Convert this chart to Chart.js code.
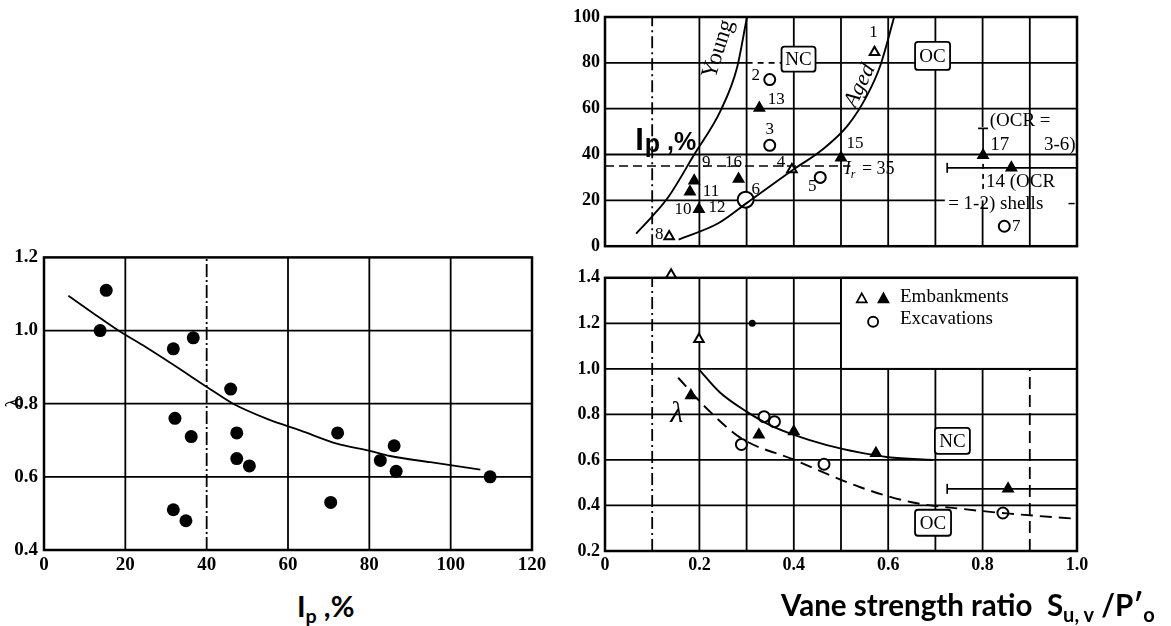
<!DOCTYPE html>
<html>
<head>
<meta charset="utf-8">
<script src="https://cdn.jsdelivr.net/npm/chart.js@4.4.1/dist/chart.umd.min.js"></script>
<style>
  html, body { margin: 0; padding: 0; background: #fff; width: 1171px; height: 626px; overflow: hidden; }
  canvas { position: absolute; }
  .title { position: absolute; font-family: Lato, "Open Sans", sans-serif; font-weight: bold; color: #000;
           white-space: nowrap; line-height: 28px; }
  .title sub { font-size: 68%; vertical-align: -0.3em; line-height: 0; }
</style>
</head>
<body>
<canvas id="leftPanel" width="560" height="340" style="left:0;top:240px"></canvas>
<canvas id="upperPanel" width="540" height="262" style="left:560px;top:0"></canvas>
<canvas id="lowerPanel" width="540" height="326" style="left:560px;top:262px"></canvas>
<div class="title" style="left:297px;top:592px;font-size:29px">I<sub>p</sub> ,%</div>
<div class="title" style="left:781px;top:591px;font-size:29.5px">Vane strength ratio&nbsp; S<sub>u, v</sub> /P′<sub>o</sub></div>

<script>
// ---------- Left panel: correction factor against plasticity index ----------
const ipPercent   = [13.8, 15.3, 31.8, 36.7, 32.2, 36.2, 45.9, 47.4, 47.4, 50.5, 31.8, 34.9, 70.5, 72.2, 82.7, 86.1, 86.6, 109.7];
const lambdaAtIp  = [1.00, 1.11, 0.95, 0.98, 0.76, 0.71, 0.84, 0.72, 0.65, 0.63, 0.51, 0.48, 0.53, 0.72, 0.645, 0.685, 0.615, 0.60];
const trendIp     = [6, 12, 18.3, 25, 32, 40.7, 46.5, 55, 63, 72, 80.2, 85.1, 95, 107.3];
const trendLambda = [1.095, 1.048, 1.0, 0.955, 0.905, 0.841, 0.80, 0.758, 0.727, 0.691, 0.671, 0.657, 0.640, 0.62];
const ipTicks     = [0, 20, 40, 60, 80, 100, 120];
const lambdaTicks = [0.4, 0.6, 0.8, 1.0, 1.2];

// ---------- Upper right panel: Ip against vane strength ratio ----------
const openTriRatio   = [0.571, 0.396, 0.136];
const openTriIp      = [84.6, 33.5, 4.2];
const openTriTags    = [['1'], ['4'], ['8']];
const filledTriRatio = [0.327, 0.500, 0.283, 0.189, 0.180, 0.199, 0.801, 0.861];
const filledTriIp    = [60.3, 38.6, 29.3, 28.6, 23.8, 16.1, 39.7, 34.2];
const filledTriTags  = [['13'], ['15'], ['16'], ['9'], ['11'], ['10', '12'], [], []];
const circleRatio    = [0.349, 0.349, 0.456, 0.298, 0.846];
const circleIp       = [72.7, 44.0, 30.0, 20.3, 8.7];
const circleTags     = [['2'], ['3'], ['5'], ['6'], ['7']];
const youngRatio = [0.066, 0.100, 0.135, 0.189, 0.246, 0.280, 0.300, 0.303];
const youngIp    = [5.5, 13.0, 21.7, 40.0, 59.6, 78.1, 99.0, 102];
const agedRatio  = [0.156, 0.240, 0.300, 0.400, 0.456, 0.514, 0.555, 0.583, 0.614];
const agedIp     = [2.9, 10.0, 18.8, 33.6, 41.4, 52.6, 65.7, 78.6, 101];
const ipRefValue = 35;
const ipRefRange = [0, 0.52];
const shellBar17 = { x: 0.801, solid: [39.7, 51.4], dashed: [25, 39.7] };
const shellBar14 = { y: 34.2, range: [0.725, 1.0] };
const ipAxisTicks = [0, 20, 40, 60, 80, 100];

// ---------- Lower right panel: lambda against vane strength ratio ----------
const lowOpenTriRatio   = [0.140, 0.199];
const lowOpenTriLambda  = [1.413, 1.13];
const lowFilledTriRatio = [0.182, 0.326, 0.400, 0.574, 0.854];
const lowFilledTriLambda= [0.883, 0.711, 0.725, 0.629, 0.473];
const lowCircleRatio    = [0.337, 0.359, 0.289, 0.464, 0.843];
const lowCircleLambda   = [0.790, 0.768, 0.668, 0.581, 0.367];
const lowDotRatio  = [0.312];
const lowDotLambda = [1.2];
const ncRatio  = [0.198, 0.243, 0.300, 0.355, 0.400, 0.470, 0.541, 0.600, 0.695];
const ncLambda = [1.0, 0.897, 0.812, 0.747, 0.710, 0.665, 0.632, 0.612, 0.600];
const ocRatio  = [0.155, 0.216, 0.288, 0.398, 0.541, 0.650, 0.752, 0.857, 0.996];
const ocLambda = [0.961, 0.825, 0.696, 0.603, 0.480, 0.414, 0.386, 0.364, 0.342];
const lowShellBar = { y: 0.473, range: [0.725, 1.0] };
const ratioTicks  = [0, 0.2, 0.4, 0.6, 0.8, 1.0];
const lowLambdaTicks = [0.2, 0.4, 0.6, 0.8, 1.0, 1.2, 1.4];

const INK = '#000';
const GRID_W = 1.8;
const SERIF = (size, style = '') => `${style} ${size}px "Liberation Serif", "DejaVu Serif", serif`;
const TICK_FONT_L = { family: '"Liberation Serif", serif', size: 19, weight: 'bold' };
const TICK_FONT_R = { family: '"Liberation Serif", serif', size: 18, weight: 'bold' };

const pts = (xs, ys) => xs.map((x, i) => ({ x, y: ys[i] }));
const fixedTicks = arr => scale => { scale.ticks = arr.map(v => ({ value: v })); };

function text(ctx, str, x, y, font, align = 'center', base = 'middle') {
  ctx.font = font; ctx.textAlign = align; ctx.textBaseline = base; ctx.fillStyle = INK;
  ctx.fillText(str, x, y);
}
function tagBox(ctx, str, cx, cy, w, h) {
  ctx.save();
  ctx.fillStyle = '#fff'; ctx.strokeStyle = INK; ctx.lineWidth = 1.8;
  ctx.beginPath(); ctx.roundRect(cx - w / 2, cy - h / 2, w, h, 3); ctx.fill(); ctx.stroke();
  text(ctx, str, cx, cy + 1, SERIF(19));
  ctx.restore();
}
function line(ctx, x0, y0, x1, y1, w = GRID_W, dash = []) {
  ctx.lineWidth = w; ctx.setLineDash(dash); ctx.beginPath();
  ctx.moveTo(x0, y0); ctx.lineTo(x1, y1); ctx.stroke(); ctx.setLineDash([]);
}

// Hand-ruled grid, frame and annotations for each panel
function panelPlugin(grid, drawBefore, drawAfter, tagOffsets) {
  return {
    id: 'panelDecor',
    beforeDatasetsDraw(chart) {
      const { ctx, chartArea: a } = chart;
      const X = v => chart.scales.x.getPixelForValue(v);
      const Y = v => chart.scales.y.getPixelForValue(v);
      ctx.save();
      ctx.strokeStyle = INK;
      grid.forEach(g => {
        if ('x' in g) {
          const px = X(g.x);
          line(ctx, px, 'from' in g ? Y(g.from) : a.bottom, px, 'to' in g ? Y(g.to) : a.top, g.w || GRID_W, g.dash || []);
        } else {
          const py = Y(g.y);
          line(ctx, 'from' in g ? X(g.from) : a.left, py, 'to' in g ? X(g.to) : a.right, py, g.w || GRID_W, g.dash || []);
        }
      });
      if (drawBefore) drawBefore(ctx, X, Y, a);
      ctx.strokeStyle = INK; ctx.lineWidth = 2.5; ctx.setLineDash([]);
      ctx.strokeRect(a.left, a.top, a.width, a.height);
      ctx.restore();
    },
    afterDatasetsDraw(chart) {
      const { ctx, chartArea: a } = chart;
      const X = v => chart.scales.x.getPixelForValue(v);
      const Y = v => chart.scales.y.getPixelForValue(v);
      ctx.save();
      ctx.strokeStyle = INK;
      if (tagOffsets) {
        chart.data.datasets.forEach((ds, i) => {
          if (!ds.tags) return;
          const meta = chart.getDatasetMeta(i);
          ds.tags.forEach((list, j) => {
            const el = meta.data[j];
            list.forEach(t => {
              const o = tagOffsets[t] || [12, 0];
              text(ctx, t, el.x + o[0], el.y + o[1], SERIF(17));
            });
          });
        });
      }
      if (drawAfter) drawAfter(ctx, X, Y, a);
      ctx.restore();
    }
  };
}

const markerSet = (data, style, filled, radius, extra = {}) => Object.assign({
  data, pointStyle: style, pointRadius: radius,
  backgroundColor: filled ? INK : '#fff', borderColor: INK, borderWidth: 2, showLine: false
}, extra);
const curveSet = (data, dash = [], width = 1.9) => ({
  data, showLine: true, pointRadius: 0, borderColor: INK, borderWidth: width, borderDash: dash,
  cubicInterpolationMode: 'monotone', fill: false
});

const baseOptions = (padding) => ({
  responsive: false, animation: false, events: [],
  layout: { padding },
  plugins: { legend: { display: false }, tooltip: { enabled: false } }
});

// ---------- Left chart ----------
new Chart(document.getElementById('leftPanel'), {
  type: 'scatter',
  data: { datasets: [
    curveSet(pts(trendIp, trendLambda), [], 1.8),
    { data: pts(ipPercent, lambdaAtIp), pointStyle: 'circle', pointRadius: 6.5, backgroundColor: INK, borderColor: INK, borderWidth: 0 }
  ] },
  options: Object.assign(baseOptions({ top: 17, right: 28, left: 0, bottom: 0 }), {
    scales: {
      x: { type: 'linear', min: 0, max: 120, afterBuildTicks: fixedTicks(ipTicks),
           ticks: { font: TICK_FONT_L, color: INK, padding: 4, maxRotation: 0 },
           grid: { display: false, drawTicks: false }, border: { display: false },
           afterFit: s => { s.height = 30; } },
      y: { type: 'linear', min: 0.4, max: 1.2, afterBuildTicks: fixedTicks(lambdaTicks),
           ticks: { font: TICK_FONT_L, color: INK, padding: 6, callback: v => v.toFixed(1) },
           grid: { display: false, drawTicks: false }, border: { display: false },
           afterFit: s => { s.width = 44; } }
    }
  }),
  plugins: [panelPlugin(
    [{ x: 20 }, { x: 40, dash: [13, 3, 2, 3] }, { x: 60 }, { x: 80 }, { x: 100 },
     { y: 1.0 }, { y: 0.8 }, { y: 0.6 }],
    null,
    (ctx, X, Y) => {
      ctx.save();
      ctx.translate(15, Y(0.8) - 1);
      ctx.rotate(-Math.PI / 2);
      text(ctx, 'λ', 0, 0, SERIF(20));
      ctx.restore();
    })]
});

// ---------- Upper right chart ----------
const upperTagOffsets = {
  '1': [-1, -20], '2': [-14, -4], '13': [17, -8], '3': [0, -16], '15': [14, -14], '4': [-11, -7],
  '5': [-8, 9], '16': [-5, -17], '9': [12, -18], '11': [21, 0], '10': [-16, 0], '12': [18, -2],
  '6': [10, -10], '8': [-10, -2], '7': [12, 0]
};
new Chart(document.getElementById('upperPanel'), {
  type: 'scatter',
  data: { datasets: [
    curveSet(pts(youngRatio, youngIp)),
    curveSet(pts(agedRatio, agedIp)),
    markerSet(pts(openTriRatio, openTriIp), 'triangle', false, 5.5, { tags: openTriTags }),
    markerSet(pts(filledTriRatio, filledTriIp), 'triangle', true, 5.5, { tags: filledTriTags }),
    markerSet(pts(circleRatio, circleIp), 'circle', false, circleIp.map((v, i) => i === 3 ? 8 : 5.5), { tags: circleTags })
  ] },
  options: Object.assign(baseOptions({ top: 17, right: 23, left: 0, bottom: 12 }), {
    scales: {
      x: { type: 'linear', min: 0, max: 1, display: false },
      y: { type: 'linear', min: 0, max: 100, afterBuildTicks: fixedTicks(ipAxisTicks),
           ticks: { font: TICK_FONT_R, color: INK, padding: 5 },
           grid: { display: false, drawTicks: false }, border: { display: false },
           afterFit: s => { s.width = 45; } }
    }
  }),
  plugins: [panelPlugin(
    [{ x: 0.1, dash: [12, 4, 2, 4] }, { x: 0.2 }, { x: 0.3 }, { x: 0.4 }, { x: 0.5 }, { x: 0.6 }, { x: 0.7 },
     { x: 0.8, from: 52, to: 100 }, { x: 0.8, from: 0, to: 20 }, { x: 0.9 },
     { y: 80, from: 0, to: 0.3 }, { y: 80, from: 0.3, to: 0.38, dash: [6, 5] }, { y: 80, from: 0.38 },
     { y: 60 }, { y: 40 }, { y: 20, from: 0, to: 0.72 }],
    (ctx, X, Y) => {
      // reference line Ip = 35
      line(ctx, X(ipRefRange[0]), Y(ipRefValue), X(ipRefRange[1]), Y(ipRefValue), 1.7, [9, 5]);
      // shell test bars
      const bx = X(shellBar17.x);
      line(ctx, bx, Y(shellBar17.solid[0]), bx, Y(shellBar17.solid[1]), 1.7);
      line(ctx, bx - 5, Y(shellBar17.solid[1]), bx + 5, Y(shellBar17.solid[1]), 1.7);
      line(ctx, bx, Y(shellBar17.dashed[0]), bx, Y(shellBar17.dashed[1]), 1.7, [5, 5]);
      const by = Y(shellBar14.y);
      line(ctx, X(shellBar14.range[0]), by, X(shellBar14.range[1]), by, 1.7);
      line(ctx, X(shellBar14.range[0]), by - 5, X(shellBar14.range[0]), by + 5, 1.7);
    },
    (ctx, X, Y) => {
      tagBox(ctx, 'NC', X(0.41), Y(81.6), 34, 25);
      tagBox(ctx, 'OC', X(0.694), Y(83), 35, 28);
      // curve names
      ctx.save(); ctx.translate(X(0.24), Y(86)); ctx.rotate(-72 * Math.PI / 180);
      text(ctx, 'Young', 0, 0, SERIF(23)); ctx.restore();
      ctx.save(); ctx.translate(X(0.54), Y(70)); ctx.rotate(-64 * Math.PI / 180);
      text(ctx, 'Aged', 0, 0, SERIF(22, 'italic')); ctx.restore();
      // axis quantity written inside the panel
      let x0 = X(0.064), yc = Y(46.7);
      ctx.font = 'bold 31px "Liberation Sans", Arial, sans-serif'; ctx.textAlign = 'left'; ctx.textBaseline = 'alphabetic';
      ctx.fillText('I', x0, yc + 11); x0 += ctx.measureText('I').width + 1;
      ctx.font = 'bold 25px "Liberation Sans", Arial, sans-serif';
      ctx.fillText('p', x0, yc + 13); x0 += ctx.measureText('p').width;
      ctx.fillText(' ,%', x0, yc + 11);
      // reference line label
      let lx = X(0.508), ly = Y(33.5);
      ctx.font = SERIF(18, 'italic'); ctx.textBaseline = 'middle';
      ctx.fillText('I', lx, ly); lx += ctx.measureText('I').width;
      ctx.font = SERIF(12, 'italic'); ctx.fillText('r', lx, ly + 5); lx += ctx.measureText('r').width + 2;
      ctx.font = SERIF(18); ctx.fillText(' = 35', lx, ly);
      // shell notes
      text(ctx, '(OCR =', X(0.815), Y(54.4), SERIF(19), 'left');
      text(ctx, '17', X(0.816), Y(44), SERIF(19), 'left');
      text(ctx, '3-6)', X(0.997), Y(44), SERIF(19), 'right');
      text(ctx, '14 (OCR', X(0.807), Y(27.9), SERIF(19), 'left');
      text(ctx, '= 1-2) shells', X(0.727), Y(18.6), SERIF(19), 'left');
      line(ctx, X(0.982), Y(18.6), X(0.995), Y(18.6), 1.5);
    },
    upperTagOffsets)]
});

// ---------- Lower right chart ----------
new Chart(document.getElementById('lowerPanel'), {
  type: 'scatter',
  data: { datasets: [
    curveSet(pts(ncRatio, ncLambda)),
    curveSet(pts(ocRatio, ocLambda), [12, 7]),
    markerSet(pts(lowOpenTriRatio, lowOpenTriLambda), 'triangle', false, 5.5, { clip: false }),
    markerSet(pts(lowFilledTriRatio, lowFilledTriLambda), 'triangle', true, 5.5),
    markerSet(pts(lowCircleRatio, lowCircleLambda), 'circle', false, 5.5),
    markerSet(pts(lowDotRatio, lowDotLambda), 'circle', true, 2.5)
  ] },
  options: Object.assign(baseOptions({ top: 14, right: 23, left: 0, bottom: 0 }), {
    scales: {
      x: { type: 'linear', min: 0, max: 1, afterBuildTicks: fixedTicks(ratioTicks),
           ticks: { font: TICK_FONT_R, color: INK, padding: 4, maxRotation: 0,
                    callback: v => v === 0 ? '0' : v.toFixed(1) },
           grid: { display: false, drawTicks: false }, border: { display: false },
           afterFit: s => { s.height = 37; } },
      y: { type: 'linear', min: 0.2, max: 1.4, afterBuildTicks: fixedTicks(lowLambdaTicks),
           ticks: { font: TICK_FONT_R, color: INK, padding: 5, callback: v => v.toFixed(1) },
           grid: { display: false, drawTicks: false }, border: { display: false },
           afterFit: s => { s.width = 45; } }
    }
  }),
  plugins: [panelPlugin(
    [{ x: 0.1, dash: [12, 4, 2, 4] }, { x: 0.2 }, { x: 0.3 }, { x: 0.4 }, { x: 0.5 },
     { x: 0.6, to: 1.0 }, { x: 0.7, to: 1.0 }, { x: 0.8, to: 1.0 }, { x: 0.9, to: 1.0, dash: [12, 6] },
     { y: 1.2, to: 0.5 }, { y: 1.0 }, { y: 0.8 }, { y: 0.6 }, { y: 0.4 }],
    (ctx, X, Y) => {
      // key box
      ctx.fillStyle = '#fff';
      ctx.fillRect(X(0.5), Y(1.4), X(1.0) - X(0.5), Y(1.0) - Y(1.4));
      ctx.strokeStyle = INK; ctx.lineWidth = 1.9;
      ctx.strokeRect(X(0.5), Y(1.4), X(1.0) - X(0.5), Y(1.0) - Y(1.4));
      const by = Y(lowShellBar.y);
      line(ctx, X(lowShellBar.range[0]), by, X(lowShellBar.range[1]), by, 1.7);
      line(ctx, X(lowShellBar.range[0]), by - 5, X(lowShellBar.range[0]), by + 5, 1.7);
    },
    (ctx, X, Y) => {
      // key entries
      const tri = (cx, cy, filled) => {
        ctx.beginPath(); ctx.moveTo(cx, cy - 5); ctx.lineTo(cx + 5, cy + 4); ctx.lineTo(cx - 5, cy + 4); ctx.closePath();
        ctx.fillStyle = filled ? INK : '#fff'; ctx.fill(); ctx.lineWidth = 1.7; ctx.stroke();
      };
      tri(X(0.544), Y(1.31), false);
      tri(X(0.59), Y(1.31), true);
      ctx.beginPath(); ctx.arc(X(0.568), Y(1.207), 5, 0, Math.PI * 2);
      ctx.fillStyle = '#fff'; ctx.fill(); ctx.lineWidth = 1.9; ctx.stroke();
      text(ctx, 'Embankments', X(0.625), Y(1.316), SERIF(19), 'left');
      text(ctx, 'Excavations', X(0.625), Y(1.22), SERIF(19), 'left');
      tagBox(ctx, 'NC', X(0.736), Y(0.684), 35, 26);
      tagBox(ctx, 'OC', X(0.695), Y(0.324), 36, 26);
      text(ctx, 'λ', X(0.152), Y(0.80), SERIF(30, 'italic'));
    })]
});
</script>
</body>
</html>
